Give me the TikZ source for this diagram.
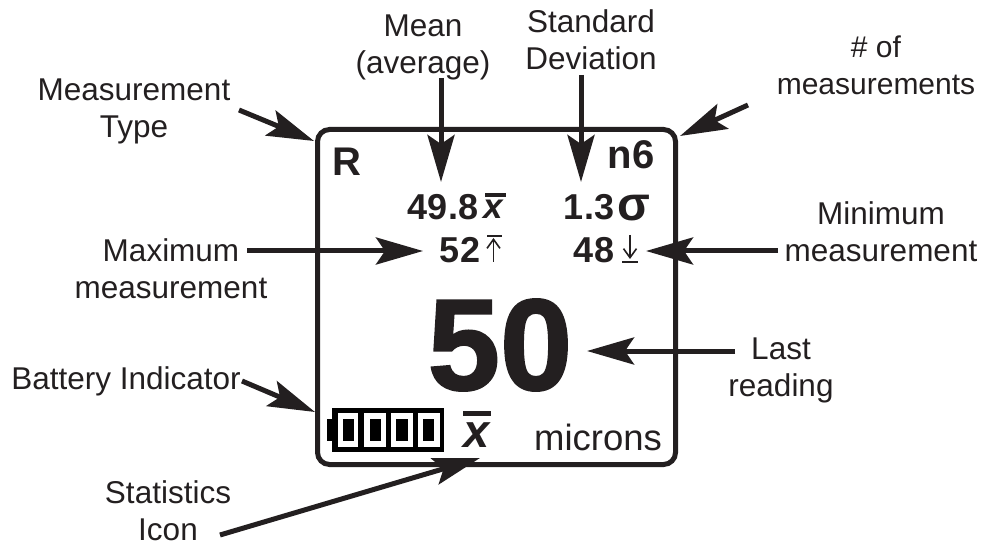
\documentclass[tikz,border=0pt]{standalone}
\usepackage{fontspec}
\setmainfont{Liberation Sans}
\usetikzlibrary{arrows.meta,calc}
\definecolor{ink}{HTML}{231F20}
\tikzset{
  lab/.style={text=ink,inner sep=0pt,align=center,font=\fontsize{31.5}{37}\selectfont},
  val/.style={text=ink,inner sep=0pt,font=\fontsize{36}{40}\selectfont\bfseries},
  arr/.style={draw=ink,line width=5pt,-{Stealth[length=47pt,width=27pt,inset=9pt]}},
  thin/.style={draw=ink,line width=1.6pt},
  barb/.style={-{Straight Barb[length=9pt,width=13pt]}}
}
\begin{document}
\begin{tikzpicture}[x=1pt,y=-1pt]
\useasboundingbox (0,0) rectangle (982,545);
% display frame
\draw[ink,line width=5pt,rounded corners=12pt] (317.5,129.5) rectangle (675.5,464.5);
% labels
\node[lab] (mtype) at (134,111.5) {Measurement\\Type};
\node[lab] (mean) at (423,47) {Mean\\(average)};
\node[lab] (std) at (591,40) {Standard\\Deviation};
\node[lab,font=\fontsize{30}{37}\selectfont] (count) at (876,65) {\# of\\measurements};
\node[lab] (maxm) at (171,269) {Maximum\\measurement};
\node[lab] (minm) at (881,232) {Minimum\\measurement};
\node[lab] (last) at (781,370) {Last\\reading};
\node[lab] (batt) at (126,381) {Battery Indicator};
\node[lab] (stat) at (168,511) {Statistics\\Icon};
% display values
\node[text=ink,inner sep=0pt,font=\fontsize{40}{44}\selectfont\bfseries] (r) at (347,162) {R};
\node[text=ink,inner sep=0pt,font=\fontsize{40}{44}\selectfont\bfseries] (n) at (631,155) {n6};
\node[val] (avg) at (443,207) {49.8};
\node[val] (sd) at (589,207) {1.3};
\node[val] (mx) at (460,250) {52};
\node[val] (mn) at (594,250) {48};
\node[text=ink,inner sep=0pt,font=\fontsize{130}{130}\selectfont\bfseries\addfontfeature{FakeBold=1.5}] (big) at (500,345) {50};
\node[text=ink,inner sep=0pt,font=\fontsize{36.5}{40}\selectfont] (unit) at (598,437) {microns};
% small symbols
\node[text=ink,inner sep=0pt,font=\fontsize{35}{40}\selectfont\bfseries\itshape] (xs) at (493,209) {x};
\fill[ink] (485,193) rectangle (506,197);
\node[text=ink,inner sep=0pt,font=\fontsize{48}{50}\selectfont\bfseries] (sg) at (634,208) {σ};
\draw[thin] (487,236) -- (502,236);
\draw[thin,barb] (493.5,262) -- (493.5,238);
\draw[thin] (622,262) -- (638,262);
\draw[thin,barb] (630,235) -- (630,259);
% battery
\fill[black] (332,408) rectangle (444,452);
\fill[black] (327,419) rectangle (333,441);
\foreach \a/\b/\c/\d in {338/358/343/354,364/386/370/381,391/413/396/408,418/440/423/434}{
  \fill[white] (\a,413) rectangle (\b,447);
  \fill[black] (\c,419) rectangle (\d,441);
}
% big mean icon
\node[text=ink,inner sep=0pt,font=\fontsize{47}{48}\selectfont\bfseries\itshape] (xb) at (477,435) {x};
\fill[ink] (463,411) rectangle (491,416);
% coordinates of the arrow tips
\coordinate (tType) at (314,141);
\coordinate (tMean) at (441,182);
\coordinate (tStd) at (581,182);
\coordinate (tCount) at (680,136);
\coordinate (tMax) at (423,251);
\coordinate (tMin) at (646,251);
\coordinate (tLast) at (587,351);
\coordinate (tBatt) at (315,412);
\coordinate (tStat) at (480,458);
% arrows
\draw[arr] ($(mtype.center)+(105,-1.5)$) -- (tType);
\draw[arr] ($(mean.center)+(18,31)$) -- (tMean);
\draw[arr] ($(std.center)+(-10,35)$) -- (tStd);
\draw[arr] ($(count.center)+(-128,40)$) -- (tCount);
\draw[arr] ($(maxm.center)+(76,-18)$) -- (tMax);
\draw[arr] ($(minm.center)+(-103,19)$) -- (tMin);
\draw[arr] ($(last.center)+(-46,-19)$) -- (tLast);
\draw[arr] ($(batt.center)+(116,0)$) -- (tBatt);
\draw[arr] ($(stat.center)+(52,24)$) -- (tStat);
\end{tikzpicture}
\end{document}
